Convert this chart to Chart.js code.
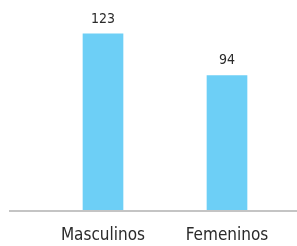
<!DOCTYPE html>
<html>
<head>
<meta charset="utf-8">
<script src="https://cdn.jsdelivr.net/npm/chart.js@4/dist/chart.umd.min.js"></script>
<style>
  html, body { margin: 0; padding: 0; background: #fff; }
  #wrap { width: 297px; height: 246px; position: relative; }
</style>
</head>
<body>
<div id="wrap"><canvas id="sexChart"></canvas></div>
<script>
const categories = ['Masculinos', 'Femeninos'];
const values = [123, 94];

const fontFamily = '"DejaVu Sans Condensed", "Roboto", sans-serif';

// value labels above bars + long grey baseline
const barExtras = {
    id: 'barExtras',
    afterDatasetsDraw(chart) {
        const ctx = chart.ctx;
        const meta = chart.getDatasetMeta(0);
        const yZero = chart.scales.y.getPixelForValue(0);
        ctx.save();
        ctx.strokeStyle = '#c4c4c4';
        ctx.lineWidth = 2;
        ctx.beginPath();
        ctx.moveTo(9, yZero);
        ctx.lineTo(chart.width, yZero);
        ctx.stroke();

        ctx.fillStyle = '#2b2b2b';
        ctx.font = '14px ' + fontFamily;
        ctx.textAlign = 'center';
        ctx.textBaseline = 'bottom';
        meta.data.forEach(function(bar, i) {
            ctx.fillText(String(values[i]), bar.x, bar.y - 8);
        });
        ctx.restore();
    }
};

new Chart(document.getElementById('sexChart'), {
    type: 'bar',
    data: {
        labels: categories,
        datasets: [{
            data: values,
            backgroundColor: '#6dcff6',
            borderWidth: 0,
            barThickness: 40
        }]
    },
    options: {
        responsive: true,
        maintainAspectRatio: false,
        animation: false,
        layout: { padding: { left: 41, right: 8, top: 8, bottom: 0 } },
        plugins: { legend: { display: false }, tooltip: { enabled: false } },
        scales: {
            x: {
                grid: { display: false, drawTicks: false },
                border: { display: false },
                ticks: {
                    color: '#2b2b2b',
                    padding: 14,
                    maxRotation: 0,
                    font: { family: fontFamily, size: 17 }
                },
                afterFit: function(scale) { scale.height = 35; }
            },
            y: {
                display: false,
                min: 0,
                max: 141
            }
        }
    },
    plugins: [barExtras]
});
</script>
</body>
</html>
